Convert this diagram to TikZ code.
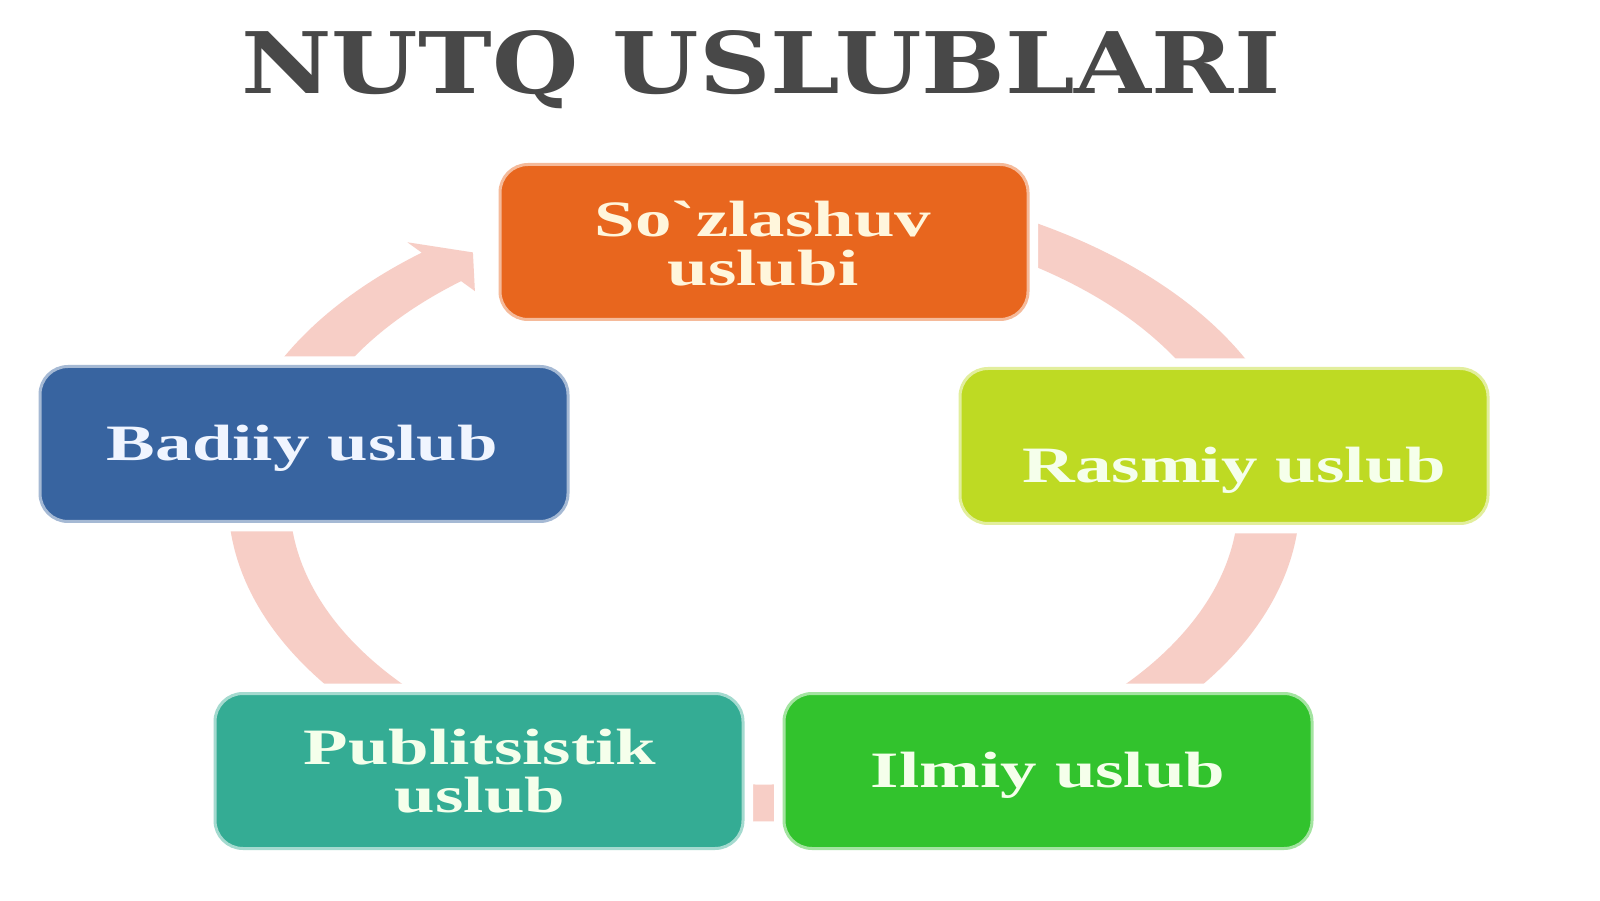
\documentclass[tikz,border=0pt]{standalone}
\usepackage{graphicx}
\usepackage{fontspec}
\setmainfont{Liberation Serif}
\newfontfamily\bxf{Liberation Serif}
\newfontfamily\ttlf{DejaVu Serif}
\definecolor{ringc}{RGB}{247,206,198}
\definecolor{cor}{RGB}{232,102,30}
\definecolor{cras}{RGB}{190,218,35}
\definecolor{cilm}{RGB}{50,195,45}
\definecolor{cpub}{RGB}{52,172,148}
\definecolor{cbad}{RGB}{56,100,160}
\definecolor{ttlc}{RGB}{72,72,72}
\definecolor{txor}{RGB}{255,246,220}
\definecolor{txbl}{RGB}{240,245,255}
\definecolor{txgr}{RGB}{245,255,235}
\newcommand\bxtxt[1]{\scalebox{1.43}[1]{\begin{tabular}[t]{@{}c@{}}#1\end{tabular}}}
\tikzset{
  stylebox/.style={rounded corners=28pt, minimum width=528pt, minimum height=155pt,
    inner sep=0pt, fill=#1, draw=#1!45!white, line width=3pt,
    preaction={draw=white, line width=20pt}},
  boxtext/.style={anchor=base, inner sep=0pt, text=#1,
    font=\bxf\bfseries\fontsize{51}{45}\selectfont},
}
\begin{document}
\begin{tikzpicture}[x=1pt,y=1pt]
\useasboundingbox[fill=white] (0,0) rectangle (1600,900);
% title
\node[anchor=base, inner sep=0pt, text=ttlc] (title) at (761,806)
  {\resizebox{1038pt}{63pt}{\ttlf\bfseries NUTQ USLUBLARI}};
% ring with arrow
\begin{scope}[shift={(764,400)}]
\fill[ringc] (129.7:535.8 and 321.5)
  arc[start angle=129.7, end angle=420, x radius=535.8, y radius=321.5]
  -- (420:474.2 and 284.5)
  arc[start angle=420, end angle=129.7, x radius=474.2, y radius=284.5]
  -- (129.7:452.6 and 271.5) -- (125.2:505 and 303) -- (129.7:558.4 and 335) -- cycle;
\end{scope}
% boxes
\node[stylebox=cor]  (sozb) at (764,658) {};
\node[stylebox=cras] (rasb) at (1224,454) {};
\node[stylebox=cbad] (badb) at (304,456) {};
\node[stylebox=cpub] (pubb) at (479,129) {};
\node[stylebox=cilm] (ilmb) at (1048,129) {};
% texts
\node[boxtext=txor] (soz) at (763,663) {\bxtxt{So`zlashuv\\uslubi}};
\node[boxtext=txbl] (bad) at (302.5,439) {\bxtxt{Badiiy uslub}};
\node[boxtext=txgr] (ras) at (1234.5,417) {\bxtxt{Rasmiy uslub}};
\node[boxtext=txgr] (ilm) at (1048,113) {\bxtxt{Ilmiy uslub}};
\node[boxtext=txgr] (pub) at (480,136) {\bxtxt{Publitsistik\\uslub}};
\end{tikzpicture}
\end{document}
